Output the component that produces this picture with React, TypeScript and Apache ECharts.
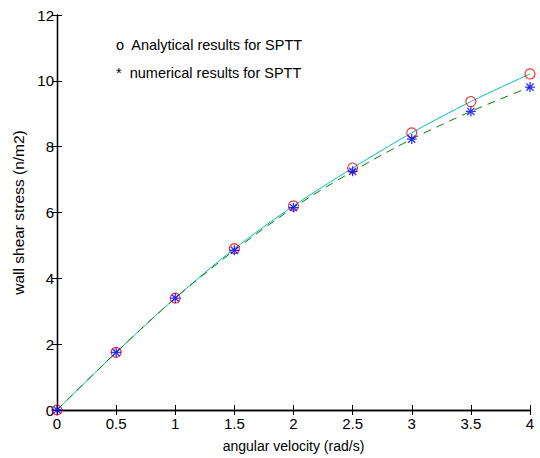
import React, { useEffect, useRef } from "react";
import * as echarts from "echarts";

// angular velocity (rad/s)
const omega = [0, 0.5, 1, 1.5, 2, 2.5, 3, 3.5, 4];
// wall shear stress, analytical solution
const analytical = [0, 1.75, 3.4, 4.9, 6.2, 7.35, 8.42, 9.37, 10.21];
// wall shear stress, numerical solution
const numerical = [0, 1.75, 3.4, 4.85, 6.15, 7.25, 8.23, 9.07, 9.81];

const xTicks = [0, 0.5, 1, 1.5, 2, 2.5, 3, 3.5, 4];
const legendLines = ["o  Analytical results for SPTT", "*  numerical results for SPTT"];

const FONT = "'Liberation Sans', Arial, sans-serif";
const STAR = "path://M0,-5L0,5M-5,0L5,0M-3.6,-3.6L3.6,3.6M-3.6,3.6L3.6,-3.6";

const pairs = (ys: number[]) => omega.map((x, i) => [x, ys[i]]);

export default function App() {
  const ref = useRef<HTMLDivElement>(null);

  useEffect(() => {
    if (!ref.current) return;
    const chart = echarts.init(ref.current, null, { renderer: "svg" });

    const axisLine = { show: true, lineStyle: { color: "#000", width: 1.3 } };
    const tick = { show: true, inside: true, length: 5, lineStyle: { color: "#000" } };
    const label = { color: "#000", fontSize: 15, fontFamily: FONT };

    chart.setOption({
      animation: false,
      backgroundColor: "#fff",
      grid: { left: 57, right: 10, top: 15, bottom: 45 },
      xAxis: [
        {
          type: "value",
          min: 0,
          max: 4,
          interval: 0.5,
          axisLine,
          axisTick: tick,
          splitLine: { show: false },
          axisLabel: { ...label, margin: 6, formatter: (v: number) => (xTicks.includes(v) ? String(v) : "") },
          name: "angular velocity (rad/s)",
          nameLocation: "middle",
          nameGap: 29,
          nameTextStyle: { color: "#000", fontSize: 14, fontFamily: FONT },
        },
        {
          type: "value",
          position: "top",
          min: 0,
          max: 4,
          interval: 0.5,
          axisLine,
          axisTick: tick,
          splitLine: { show: false },
          axisLabel: { show: false },
        },
      ],
      yAxis: [
        {
          type: "value",
          min: 0,
          max: 12,
          interval: 2,
          axisLine,
          axisTick: tick,
          splitLine: { show: false },
          axisLabel: { ...label, margin: 3, verticalAlign: "middle" },
          name: "wall shear stress (n/m2)",
          nameLocation: "middle",
          nameGap: 24,
          nameTextStyle: { color: "#000", fontSize: 15.5, fontFamily: FONT },
        },
        {
          type: "value",
          position: "right",
          min: 0,
          max: 12,
          interval: 2,
          axisLine,
          axisTick: tick,
          splitLine: { show: false },
          axisLabel: { show: false },
        },
      ],
      graphic: legendLines.map((t, i) => ({
        type: "text",
        left: 116,
        top: 37 + i * 28,
        style: { text: t, fontSize: 14.5, fontFamily: FONT, fill: "#000" },
      })),
      series: [
        {
          type: "line",
          data: pairs(analytical),
          smooth: 0.3,
          showSymbol: false,
          lineStyle: { color: "#00bfbf", width: 1 },
          z: 2,
        },
        {
          type: "line",
          data: pairs(numerical),
          smooth: 0.3,
          showSymbol: false,
          lineStyle: { color: "#008000", width: 1, type: [8, 6] },
          z: 3,
        },
        {
          type: "scatter",
          data: pairs(analytical),
          symbol: "circle",
          symbolSize: 10,
          itemStyle: { color: "none", borderColor: "#ff0000", borderWidth: 1.2 },
          z: 4,
        },
        {
          type: "scatter",
          data: pairs(numerical),
          symbol: STAR,
          symbolSize: 10,
          itemStyle: { color: "none", borderColor: "#0000ff", borderWidth: 1.3 },
          z: 5,
        },
      ],
    });

    return () => chart.dispose();
  }, []);

  return (
    <div
      ref={ref}
      style={{ position: "fixed", left: 0, top: 0, width: 540, height: 458 }}
    />
  );
}
